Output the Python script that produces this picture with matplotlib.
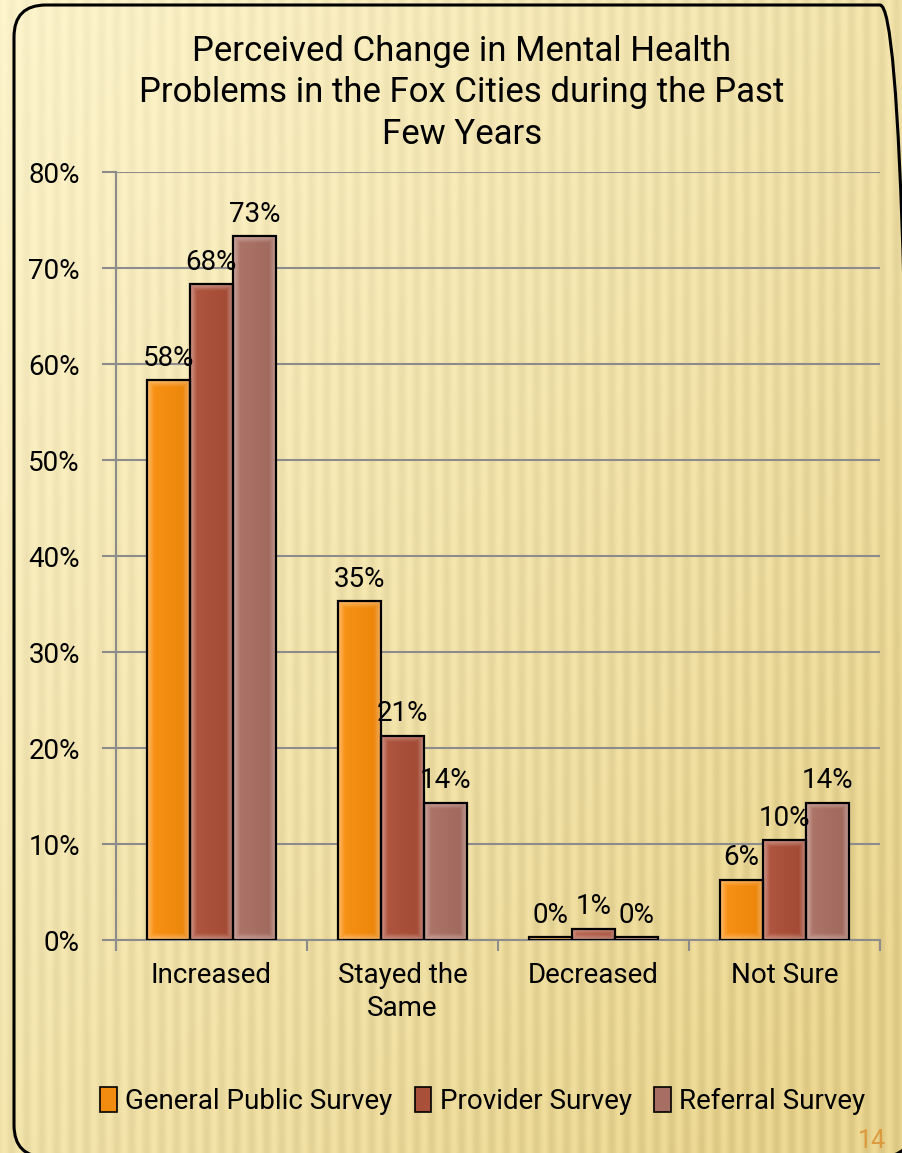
import numpy as np
import matplotlib.pyplot as plt
from matplotlib.patches import FancyBboxPatch, Patch
from matplotlib.colors import to_rgb

categories = ['Increased', 'Stayed the\nSame', 'Decreased', 'Not Sure']
series_names = ['General Public Survey', 'Provider Survey', 'Referral Survey']
general_public = [58.3, 35.3, 0.3, 6.3]
provider = [68.3, 21.3, 1.2, 10.4]
referral = [73.3, 14.3, 0.3, 14.3]
y_ticks = [0, 10, 20, 30, 40, 50, 60, 70, 80]

colors = ['#f28c10', '#a9503b', '#a76e63']
font = 'Roboto'
plt.rcParams['font.family'] = [font, 'DejaVu Sans']

fig = plt.figure(figsize=(9.02, 11.53), dpi=100)

# background: cream-to-gold gradient with faint vertical stripes
bg = fig.add_axes([0, 0, 1, 1], zorder=-10)
h, w = 1153, 902
yy, xx = np.mgrid[0:h, 0:w]
t = np.clip(0.55 * xx / w + 0.55 * yy / h, 0, 1)
stripes = 0.035 * np.sin(2 * np.pi * xx / 15.0)
c0 = np.array([251, 242, 202]) / 255
c1 = np.array([229, 209, 140]) / 255
img = c0[None, None, :] * (1 - t[..., None]) + c1[None, None, :] * t[..., None]
img = np.clip(img + stripes[..., None] * (0.4 + 0.6 * t[..., None]), 0, 1)
bg.imshow(img, extent=[0, w, 0, h], aspect='auto')
# rounded frame, in pixel units (right side runs off the page)
bg.add_patch(FancyBboxPatch((14, -4), 898, 1152, boxstyle='round,pad=0,rounding_size=32',
                            fill=False, edgecolor='black', linewidth=2.2))
bg.set_xlim(0, w)
bg.set_ylim(0, h)
bg.axis('off')

ax = fig.add_axes([0.1286, 0.1847, 0.847, 0.666])
ax.set_facecolor('none')
ax.set_xlim(-0.5, len(categories) - 0.5)
ax.set_ylim(0, 80)


def bevel_fill(bar, base):
    # lighter bevelled edges, like the office chart style
    x0, y0 = bar.get_x(), bar.get_y()
    bw, bh = bar.get_width(), bar.get_height()
    p0 = ax.transData.transform((x0, y0))
    p1 = ax.transData.transform((x0 + bw, y0 + bh))
    nx = max(int(abs(p1[0] - p0[0])), 2)
    ny = max(int(abs(p1[1] - p0[1])), 2)
    gx, gy = np.meshgrid(np.arange(nx) + 0.5, np.arange(ny) + 0.5)
    d = np.minimum.reduce([gx, nx - gx, gy, ny - gy])
    edge = np.clip(1 - d / 7.0, 0, 1)
    shade = 0.06 * (gx / nx - 0.5)
    base = np.array(to_rgb(base))
    light = base + (1 - base) * 0.38
    arr = base * (1 - edge[..., None]) + light * edge[..., None]
    arr = np.clip(arr - shade[..., None], 0, 1)
    im = ax.imshow(arr, extent=[x0, x0 + bw, y0, y0 + bh], origin='lower',
                   aspect='auto', zorder=2.5, interpolation='bilinear')
    im.set_clip_path(bar)


x = np.arange(len(categories))
width = 0.225
for i, (vals, col) in enumerate(zip([general_public, provider, referral], colors)):
    pos = x + (i - 1) * width
    bars = ax.bar(pos, vals, width, color=col, edgecolor='black', linewidth=1.6, zorder=3)
    for b, v in zip(bars, vals):
        b.set_facecolor('none')
        bevel_fill(b, col)
        ax.text(b.get_x() + b.get_width() / 2, v + 0.9, '%.0f%%' % v,
                ha='center', va='bottom', fontsize=20, zorder=4)

ax.set_xlim(-0.5, len(categories) - 0.5)
ax.set_ylim(0, 80)
ax.set_yticks(y_ticks)
ax.set_yticklabels(['%d%%' % v for v in y_ticks], fontsize=20)
ax.yaxis.grid(True, color='#8c8c8c', linewidth=1.5, zorder=0)
ax.set_axisbelow(True)

ax.set_xticks(np.arange(len(categories) + 1) - 0.5)
ax.set_xticklabels([])
ax.set_xticks(x, minor=True)
ax.set_xticklabels(categories, minor=True, fontsize=20, linespacing=1.25)
ax.tick_params(axis='x', which='minor', length=0, pad=16)
ax.tick_params(axis='x', which='major', length=8, color='#8c8c8c', width=1.5)
ax.tick_params(axis='y', length=10, color='#8c8c8c', width=1.5, pad=16)

for s in ['top', 'right']:
    ax.spines[s].set_visible(False)
for s in ['left', 'bottom']:
    ax.spines[s].set_color('#8c8c8c')
    ax.spines[s].set_linewidth(1.5)

fig.text(0.512, 0.97, 'Perceived Change in Mental Health\nProblems in the Fox Cities during the Past\nFew Years',
         ha='center', va='top', fontsize=25, linespacing=1.33)

handles = [Patch(facecolor=c, edgecolor='black', linewidth=1.2) for c in colors]
fig.legend(handles, series_names, loc='center', bbox_to_anchor=(0.535, 0.045), ncol=3,
           frameon=False, fontsize=20, handlelength=0.6, handleheight=1.0,
           handletextpad=0.3, columnspacing=0.8)

fig.text(0.982, 0.0, '14', ha='right', va='bottom', fontsize=18, color='#dc9a3c')

fig.savefig('out.png', dpi=100)
